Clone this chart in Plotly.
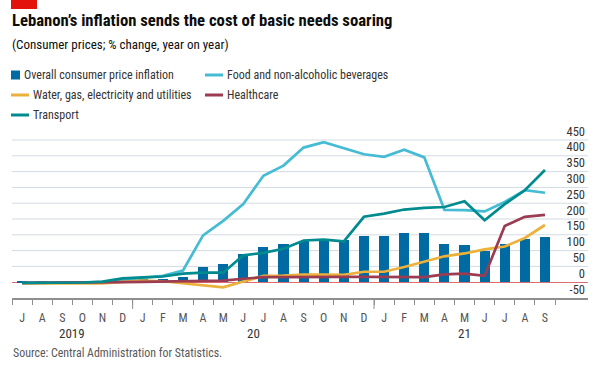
import plotly.graph_objects as go

# ---------------- data ----------------
months = ["J", "A", "S", "O", "N", "D",
          "J", "F", "M", "A", "M", "J", "J", "A", "S", "O", "N", "D",
          "J", "F", "M", "A", "M", "J", "J", "A", "S"]
year_labels = ["2019", "20", "21"]
year_starts = [0, 6, 18]
y_ticks = [-50, 0, 50, 100, 150, 200, 250, 300, 350, 400, 450]

overall = [1.7, 1.5, 1.2, 1.3, 2.6, 7.0, 10.4, 11.4, 17.5, 46.6, 56.5, 89.7,
           112.4, 120.0, 129, 131, 133, 145, 147, 155, 157, 121, 119, 98,
           122, 137, 144]
food = [-2, -2, -1, -1, 0, 5, 14, 20, 37, 148, 194, 247, 337, 369, 426, 443,
        424, 405, 397, 419, 395, 229, 228, 224, 254, 291, 283]
water = [-4, -4, -4, -4, -4, 1, 5, 3, -3, -8, -16, 2, 20, 21, 24, 24, 23, 33,
         33, 48, 65, 82, 91, 104, 113, 140, 181]
healthcare = [-2, -2, -2, -2, -1, 0, 1, 2, 2, 3, 5, 11, 16, 16, 17, 17, 17, 17,
              16, 16, 16, 25, 27, 20, 178, 207, 213]
transport = [-2, -2, -2, -1, 2, 12, 15, 18, 27, 30, 30, 85, 93, 106, 132, 135,
             129, 207, 217, 230, 235, 238, 256, 196, 247, 291, 355]

series_names = ["Overall consumer price inflation",
                "Food and non-alcoholic beverages",
                "Water, gas, electricity and utilities",
                "Healthcare",
                "Transport"]

# ---------------- styling ----------------
W, H = 600, 370
L, R, T, B = 12, 12, 139, 72
PW, PH = W - L - R, H - T - B
Y_RANGE = [-50, 453.2]

BLUE = "#006ba2"
FOOD = "#45bcd4"
WATER = "#ecb13c"
HEALTH = "#9b3c52"
TRANS = "#008b8f"
AX = "#8f8f8f"
GRID = "#d3dbe1"
FONT = "Roboto Condensed, Liberation Sans Narrow, Roboto, sans-serif"


def px_x(p):
    return (p - L) / PW


def px_y(p):
    return (T + PH - p) / PH


x = list(range(len(months)))

fig = go.Figure()
fig.add_bar(x=x, y=overall, name=series_names[0], marker_color=BLUE,
            marker_line_width=0, width=0.5)
for name, vals, col in [(series_names[1], food, FOOD),
                        (series_names[2], water, WATER),
                        (series_names[3], healthcare, HEALTH),
                        (series_names[4], transport, TRANS)]:
    fig.add_scatter(x=x, y=vals, name=name, mode="lines",
                    line=dict(color=col, width=2.7))

shapes = []
annotations = []

# horizontal grid lines
for v in y_ticks:
    if v > 0:
        shapes.append(dict(type="line", xref="paper", yref="y", x0=0, x1=1,
                           y0=v, y1=v, layer="below",
                           line=dict(color=GRID, width=1)))

# red tag top-left
shapes.append(dict(type="rect", xref="paper", yref="paper",
                   x0=px_x(11), x1=px_x(37), y0=px_y(9), y1=px_y(0),
                   fillcolor="#e3120b", line_width=0))

# title / subtitle / source
annotations.append(dict(text="<b>Lebanon’s inflation sends the cost of basic needs soaring</b>",
                        xref="paper", yref="paper", x=px_x(10), y=px_y(21),
                        xanchor="left", yanchor="middle", showarrow=False,
                        font=dict(size=16.7, color="#0d0d0d", family=FONT)))
annotations.append(dict(text="(Consumer prices; % change, year on year)",
                        xref="paper", yref="paper", x=px_x(10), y=px_y(45),
                        xanchor="left", yanchor="middle", showarrow=False,
                        font=dict(size=13, color="#0d0d0d", family=FONT)))
annotations.append(dict(text="Source: Central Administration for Statistics.",
                        xref="paper", yref="paper", x=px_x(11), y=px_y(353),
                        xanchor="left", yanchor="middle", showarrow=False,
                        font=dict(size=11.9, color="#595959", family=FONT)))

# manual legend
leg = [
    ("bar", series_names[0], BLUE, 11, 75),
    ("line", series_names[1], FOOD, 205, 75),
    ("line", series_names[2], WATER, 11, 95),
    ("line", series_names[3], HEALTH, 205, 95),
    ("line", series_names[4], TRANS, 11, 115),
]
for kind, name, col, lx, ly in leg:
    if kind == "bar":
        shapes.append(dict(type="rect", xref="paper", yref="paper",
                           x0=px_x(lx), x1=px_x(lx + 9),
                           y0=px_y(ly + 4.5), y1=px_y(ly - 4.5),
                           fillcolor=col, line_width=0))
        tx = lx + 11
    else:
        shapes.append(dict(type="line", xref="paper", yref="paper",
                           x0=px_x(lx), x1=px_x(lx + 18),
                           y0=px_y(ly), y1=px_y(ly),
                           line=dict(color=col, width=3)))
        tx = lx + 20
    annotations.append(dict(text=name, xref="paper", yref="paper",
                            x=px_x(tx), y=px_y(ly), xanchor="left",
                            yanchor="middle", showarrow=False,
                            font=dict(size=12, color="#333333", family=FONT)))

# year boundary ticks and year labels
year_ends = year_starts[1:] + [len(months)]
for i, (s, e) in enumerate(zip(year_starts, year_ends)):
    if s > 0:
        shapes.append(dict(type="line", xref="x", yref="paper",
                           x0=s - 0.5, x1=s - 0.5, y0=0, y1=-11 / PH,
                           line=dict(color=AX, width=1)))
    annotations.append(dict(text=year_labels[i], xref="x", yref="paper",
                            x=(s + e - 1) / 2, y=px_y(333), xanchor="center",
                            yanchor="middle", showarrow=False,
                            font=dict(size=13, color="#333333", family=FONT)))

fig.update_layout(
    template="none",
    width=W, height=H,
    margin=dict(l=L, r=R, t=T, b=B, pad=0, autoexpand=False),
    paper_bgcolor="white", plot_bgcolor="white",
    showlegend=False,
    bargap=0,
    font=dict(family=FONT, color="#333333"),
    shapes=shapes, annotations=annotations,
    xaxis=dict(range=[-0.5, 28.14], tickmode="array", tickvals=x,
               ticktext=months, ticks="", showgrid=False, zeroline=False,
               showline=True, linecolor=AX, linewidth=1.5,
               automargin=False,
               ticklabelstandoff=8,
               tickfont=dict(size=12, color="#555555", family=FONT),
               minor=dict(tickmode="array",
                          tickvals=[i - 0.5 for i in range(len(months) + 1)],
                          ticks="outside", ticklen=5, tickwidth=1,
                          tickcolor=AX, showgrid=False)),
    yaxis=dict(range=Y_RANGE, side="right",
               tickmode="array", tickvals=y_ticks,
               ticktext=[str(v) for v in y_ticks],
               ticklabelposition="inside top", ticks="",
               ticklabeloverflow="allow",
               automargin=False,
               showgrid=False,
               zeroline=True, zerolinecolor="#e06c73", zerolinewidth=1.3,
               showline=False,
               tickfont=dict(size=12.5, color="#333333", family=FONT)),
)

fig.write_html("out.html",
               config={"displayModeBar": False},
               post_script="document.body.style.margin='0';"
                           "document.body.style.overflow='hidden';")
